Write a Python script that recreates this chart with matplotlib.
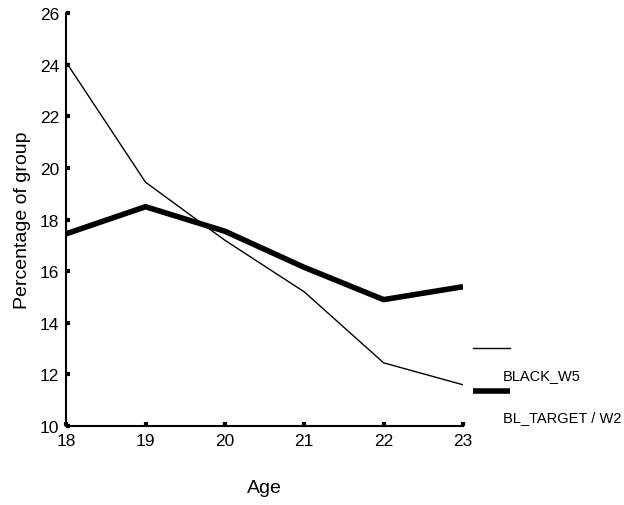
import matplotlib

matplotlib.use("Agg")
import matplotlib.pyplot as plt
from matplotlib.lines import Line2D

plt.rcParams["font.family"] = ["Liberation Sans", "DejaVu Sans"]

AGES = [18, 19, 20, 21, 22, 23]
BLACK_W5 = [24.1, 19.45, 17.2, 15.2, 12.45, 11.6]
BL_TARGET_W2 = [17.45, 18.5, 17.55, 16.15, 14.9, 15.4]
Y_TICKS = [10, 12, 14, 16, 18, 20, 22, 24, 26]


def main() -> None:
    fig = plt.figure(figsize=(6.24, 5.06), dpi=100)
    ax = fig.add_axes((0.106, 0.156, 0.636, 0.816))

    ax.plot(AGES, BLACK_W5, color="black", linewidth=1.0, solid_capstyle="butt")
    ax.plot(AGES, BL_TARGET_W2, color="black", linewidth=4.0, solid_capstyle="butt")

    ax.set_xlim(18, 23)
    ax.set_ylim(10, 26)
    ax.set_xticks(AGES)
    ax.set_yticks(Y_TICKS)
    ax.tick_params(direction="in", length=3, width=3, labelsize=12.5, pad=5)
    for side in ("top", "right"):
        ax.spines[side].set_visible(False)
    for side in ("left", "bottom"):
        ax.spines[side].set_linewidth(1.5)

    ax.set_ylabel("Percentage of group", fontsize=14, labelpad=6)
    ax.set_xlabel("Age", fontsize=14, labelpad=22)

    # legend drawn by hand, line above label like the original
    fig.add_artist(Line2D([0.758, 0.818], [0.310, 0.310], color="black", linewidth=1.0,
                          transform=fig.transFigure))
    fig.text(0.806, 0.257, "BLACK_W5", fontsize=10.5, ha="left", va="center")
    fig.add_artist(Line2D([0.758, 0.818], [0.226, 0.226], color="black", linewidth=4.0,
                          transform=fig.transFigure, solid_capstyle="butt"))
    fig.text(0.806, 0.174, "BL_TARGET / W2", fontsize=10.5, ha="left", va="center")

    fig.savefig("out.png", dpi=100)


if __name__ == "__main__":
    main()
